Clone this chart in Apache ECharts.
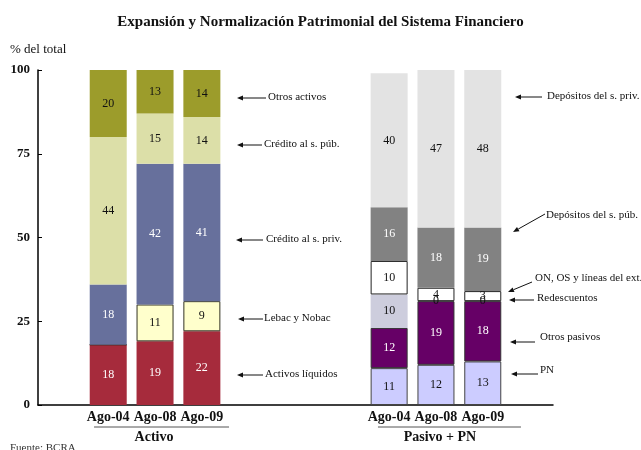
<!DOCTYPE html>
<html>
<head>
<meta charset="utf-8">
<script src="https://cdn.jsdelivr.net/npm/echarts@6/dist/echarts.min.js"></script>
<style>
  html, body { margin: 0; padding: 0; background: #fff; }
  #chart { width: 641px; height: 450px; }
</style>
</head>
<body>
<div id="chart"></div>
<script>
// Periods shown in each block
const categories = ['Ago-04', 'Ago-08', 'Ago-09'];
const groupNames = ['Activo', 'Pasivo + PN'];
const yTicks = [0, 25, 50, 75, 100];

// Activo (% del total), bottom to top
const activosLiquidos = [18, 19, 22];
const lebacNobac      = [0, 11, 9];
const creditoPriv     = [18, 42, 41];
const creditoPub      = [44, 15, 14];
const otrosActivos    = [20, 13, 14];

// Pasivo + PN (% del total), bottom to top
const pn             = [11, 12, 13];
const otrosPasivos   = [12, 19, 18];
const redescuentos   = [10, 0, 0];
const onOsLineas     = [10, 4, 3];
const depositosPub   = [16, 18, 19];
const depositosPriv  = [40, 47, 48];

const SERIF = '"Liberation Serif", "DejaVu Serif", serif';

// Slot layout along the x axis: one blank slot, Activo, three blank slots, Pasivo + PN, one blank slot
const leftStart = 1, rightStart = 7, slotCount = 11;
const slotLabels = new Array(slotCount).fill('');
categories.forEach((c, i) => { slotLabels[leftStart + i] = c; slotLabels[rightStart + i] = c; });
const slotKeys = slotLabels.map((_, i) => 's' + i);

function place(values, start) {
  const arr = new Array(slotCount).fill('-');
  values.forEach((v, i) => { arr[start + i] = v; });
  return arr;
}

function barSeries(name, values, start, color, textColor, opts) {
  opts = opts || {};
  return {
    name: name,
    type: 'bar',
    stack: 'total',
    barWidth: 37,
    data: place(values, start),
    itemStyle: {
      color: color,
      borderColor: opts.border || color,
      borderWidth: opts.border ? 1 : 0
    },
    label: {
      show: true,
      position: 'inside',
      color: textColor,
      fontFamily: SERIF,
      fontSize: 12,
      formatter: p => (p.value === 0 && !opts.showZero) ? '' : String(p.value)
    },
    emphasis: { disabled: true }
  };
}

const series = [
  barSeries('Activos líquidos', activosLiquidos, leftStart, '#A62B3C', '#ffffff'),
  barSeries('Lebac y Nobac', lebacNobac, leftStart, '#FFFFCC', '#111111', { border: '#333322' }),
  barSeries('Crédito al s. priv.', creditoPriv, leftStart, '#67709C', '#ffffff'),
  barSeries('Crédito al s. púb.', creditoPub, leftStart, '#DCDFA8', '#111111'),
  barSeries('Otros activos', otrosActivos, leftStart, '#9C9C2B', '#111111'),
  barSeries('PN', pn, rightStart, '#CCCCFF', '#111111', { border: '#444444' }),
  barSeries('Otros pasivos', otrosPasivos, rightStart, '#660066', '#ffffff', { border: '#333333' }),
  barSeries('Redescuentos', redescuentos, rightStart, '#CDCDDD', '#111111', { showZero: true }),
  barSeries('ON, OS y líneas del ext.', onOsLineas, rightStart, '#FFFFFF', '#111111', { border: '#222222' }),
  barSeries('Depósitos del s. púb.', depositosPub, rightStart, '#828282', '#ffffff'),
  barSeries('Depósitos del s. priv.', depositosPriv, rightStart, '#E3E3E3', '#111111')
];

const chart = echarts.init(document.getElementById('chart'), null, { renderer: 'canvas' });

chart.setOption({
  animation: false,
  backgroundColor: '#ffffff',
  title: {
    text: 'Expansión y Normalización Patrimonial del Sistema Financiero',
    left: 'center',
    top: 10,
    textStyle: { fontFamily: SERIF, fontWeight: 'bold', fontSize: 15, color: '#111' }
  },
  grid: { left: 38, right: 88, top: 70, bottom: 45, containLabel: false },
  xAxis: {
    type: 'category',
    data: slotKeys,
    axisLine: { lineStyle: { color: '#000', width: 1.5 } },
    axisTick: { show: false },
    axisLabel: {
      interval: 0,
      margin: 5,
      fontFamily: SERIF,
      fontWeight: 'bold',
      fontSize: 14,
      color: '#111',
      formatter: (v, i) => slotLabels[i]
    },
    splitLine: { show: false }
  },
  yAxis: {
    type: 'value',
    min: yTicks[0],
    max: yTicks[yTicks.length - 1],
    interval: 25,
    axisLine: { show: true, lineStyle: { color: '#000', width: 1.5 } },
    axisTick: { show: true, inside: true, length: 4, lineStyle: { color: '#000' } },
    axisLabel: { margin: 8, fontFamily: SERIF, fontWeight: 'bold', fontSize: 13, color: '#111' },
    splitLine: { show: false }
  },
  series: series
});

// Callout labels with arrows pointing at the stacks
const callouts = [
  { text: 'Otros activos',            tx: 268, ty: 98,  from: [266, 98],  to: [237, 98] },
  { text: 'Crédito al s. púb.',       tx: 264, ty: 145, from: [262, 145], to: [237, 145] },
  { text: 'Crédito al s. priv.',      tx: 266, ty: 240, from: [263, 240], to: [236, 240] },
  { text: 'Lebac y Nobac',            tx: 264, ty: 319, from: [263, 319], to: [238, 319] },
  { text: 'Activos líquidos',         tx: 265, ty: 375, from: [263, 375], to: [237, 375] },
  { text: 'Depósitos del s. priv.',   tx: 547, ty: 97,  from: [542, 97],  to: [515, 97] },
  { text: 'Depósitos del s. púb.',    tx: 546, ty: 216, from: [545, 214], to: [513, 232] },
  { text: 'ON, OS y líneas del ext.', tx: 535, ty: 279, from: [532, 282], to: [508, 292] },
  { text: 'Redescuentos',             tx: 537, ty: 299, from: [534, 300], to: [509, 300] },
  { text: 'Otros pasivos',            tx: 540, ty: 338, from: [535, 342], to: [510, 342] },
  { text: 'PN',                       tx: 540, ty: 371, from: [538, 374], to: [511, 374] }
];

function arrowElements(from, to) {
  const dx = to[0] - from[0], dy = to[1] - from[1];
  const len = Math.sqrt(dx * dx + dy * dy);
  const ux = dx / len, uy = dy / len;
  const hl = 6, hw = 2.5;
  const bx = to[0] - ux * hl, by = to[1] - uy * hl;
  return [
    { type: 'line', shape: { x1: from[0], y1: from[1], x2: bx, y2: by }, style: { stroke: '#111', lineWidth: 1 }, silent: true },
    { type: 'polygon', shape: { points: [to, [bx - uy * hw, by + ux * hw], [bx + uy * hw, by - ux * hw]] }, style: { fill: '#111' }, silent: true }
  ];
}

const graphics = [];
callouts.forEach(c => {
  graphics.push({
    type: 'text', left: c.tx, top: c.ty - 6,
    style: { text: c.text, fontFamily: SERIF, fontSize: 11, fill: '#111' }, silent: true
  });
  arrowElements(c.from, c.to).forEach(g => graphics.push(g));
});

// Group captions under the period labels; rule extents relative to each block's middle bar
const groupRules = [[-61, 74], [-58, 85]];
const groupCaptionShift = [-1, 4];
[leftStart, rightStart].forEach((start, gi) => {
  const center = chart.convertToPixel({ xAxisIndex: 0 }, slotKeys[start + 1]);
  graphics.push({
    type: 'line', shape: { x1: center + groupRules[gi][0], y1: 427, x2: center + groupRules[gi][1], y2: 427 },
    style: { stroke: '#555', lineWidth: 1 }, silent: true
  });
  graphics.push({
    type: 'text', x: center + groupCaptionShift[gi], y: 437,
    style: { text: groupNames[gi], fontFamily: SERIF, fontWeight: 'bold', fontSize: 14, fill: '#111', align: 'center', verticalAlign: 'middle' },
    silent: true
  });
});

graphics.push({
  type: 'text', left: 10, top: 43,
  style: { text: '% del total', fontFamily: SERIF, fontSize: 13, fill: '#111' }, silent: true
});
graphics.push({
  type: 'text', left: 10, top: 443,
  style: { text: 'Fuente: BCRA', fontFamily: SERIF, fontSize: 11, fill: '#333' }, silent: true
});

chart.setOption({ graphic: graphics });
</script>
</body>
</html>
